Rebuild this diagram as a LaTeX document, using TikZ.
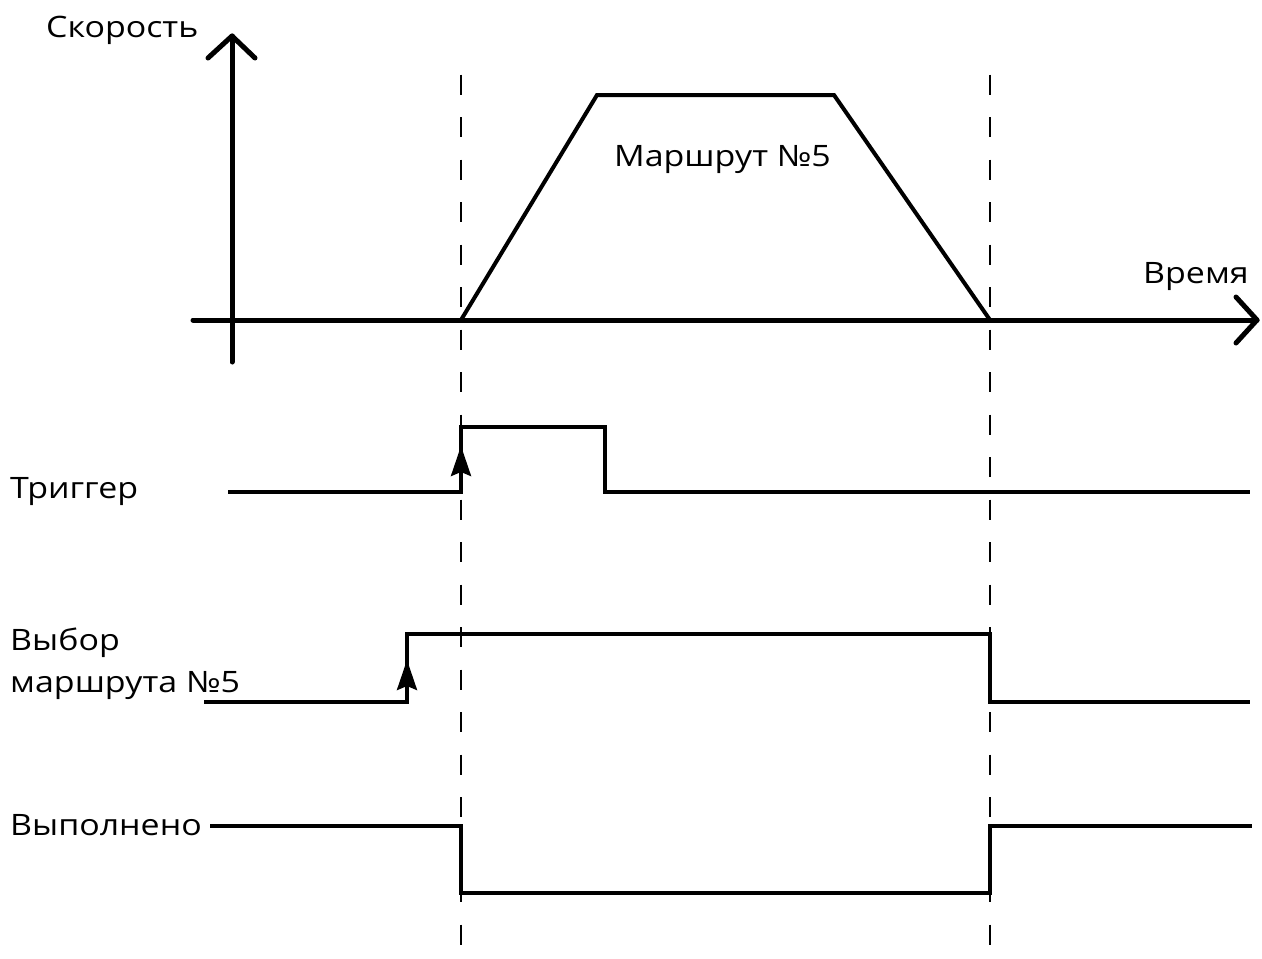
\documentclass[tikz,border=0pt]{standalone}
\usepackage{fontspec}
\setmainfont[FakeStretch=1.15]{Open Sans}
\usetikzlibrary{arrows.meta}
\begin{document}
\begin{tikzpicture}[x=1pt,y=-1pt,
  axis/.style={line width=5pt, line cap=round, line join=round},
  curve/.style={line width=4pt, line join=miter},
  sig/.style={line width=3.8pt, line join=miter},
  guide/.style={line width=2.8pt, dash pattern=on 20pt off 22.5pt, dash phase=-9.5pt},
  edge/.style={-{Stealth[length=30pt,width=20pt,inset=4pt]}, line width=3.5pt},
  lbl/.style={font=\fontsize{29.5}{34}\selectfont, inner sep=0pt}]
\useasboundingbox (0,0) rectangle (1262,959);
% guides
\draw[guide] (461,65) -- (461,959);
\draw[guide] (990,65) -- (990,959);
% axes
\coordinate (yb) at (232,362);
\coordinate (yt) at (232,36);
\coordinate (xl) at (193,320);
\coordinate (xr) at (1257,320);
\draw[axis] (yb) -- (yt);
\draw[axis] (208,58) -- (yt) -- (255,58);
\draw[axis] (xl) -- (xr);
\draw[axis] (1236,297) -- (xr) -- (1236,343);
% speed profile
\draw[curve] (461,320) -- (597,95) -- (834,95) -- (990,320);
\node[lbl, anchor=base west] (route) at (614,166) {Маршрут №5};
\node[lbl, anchor=base west] (ylab) at (46,37) {Скорость};
\node[lbl, anchor=base west] (xlab) at (1143,283) {Время};
% trigger
\node[lbl, anchor=base west] (trig) at (10,498) {Триггер};
\draw[sig] (228,492) -- (461,492) -- (461,427) -- (605,427) -- (605,492) -- (1250,492);
\draw[edge] (461,492) -- (461,446);
% route select
\node[lbl, anchor=base west] (sel1) at (10,650) {Выбор};
\node[lbl, anchor=base west] (sel2) at (10,692) {маршрута №5};
\draw[sig] (204,702) -- (407,702) -- (407,634) -- (990,634) -- (990,702) -- (1250,702);
\draw[edge] (407,702) -- (407,660);
% done
\node[lbl, anchor=base west] (done) at (10,835) {Выполнено};
\draw[sig] (210,826) -- (461,826) -- (461,893) -- (990,893) -- (990,826) -- (1252,826);
\end{tikzpicture}
\end{document}
